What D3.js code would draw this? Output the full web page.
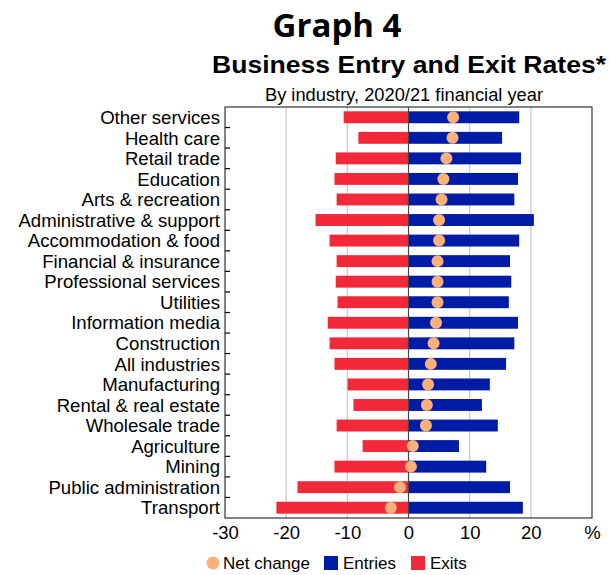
<!DOCTYPE html>
<html>
<head>
<meta charset="utf-8">
<script src="https://cdn.jsdelivr.net/npm/d3@7"></script>
<style>
  html, body { margin: 0; padding: 0; background: #fff; }
  svg { display: block; }
</style>
</head>
<body>
<svg id="chart" width="609" height="575"></svg>
<script>
const categories = ["Other services","Health care","Retail trade","Education","Arts & recreation","Administrative & support","Accommodation & food","Financial & insurance","Professional services","Utilities","Information media","Construction","All industries","Manufacturing","Rental & real estate","Wholesale trade","Agriculture","Mining","Public administration","Transport"];
const entries = [18.1,15.3,18.4,17.9,17.3,20.5,18.1,16.6,16.8,16.4,17.9,17.3,15.95,13.3,12.0,14.6,8.25,12.7,16.6,18.7];
const exits = [-10.6,-8.2,-11.9,-12.1,-11.75,-15.2,-12.9,-11.75,-11.9,-11.6,-13.2,-12.9,-12.1,-9.95,-9.0,-11.75,-7.5,-12.1,-18.15,-21.6];
const netChange = [7.3,7.2,6.2,5.7,5.4,5.0,5.0,4.75,4.75,4.75,4.5,4.1,3.65,3.2,3.0,2.85,0.7,0.4,-1.4,-2.9];
const xTicks = [-30,-20,-10,0,10,20,30];
const xTickLabels = ["-30","-20","-10","0","10","20","%"];
const legendItems = ["Net change","Entries","Exits"];

(function () {
const colors = { entries: "#001BA5", exits: "#F32939", net: "#FDB077" };
const font = "'Liberation Sans', Arial, sans-serif";

const svg = d3.select("#chart");
const pLeft = 225, pRight = 592, pTop = 107, pBottom = 518;

const x = d3.scaleLinear().domain([-30, 30]).range([pLeft, pRight]);
const y = d3.scaleBand().domain(categories).range([pTop, pBottom]).paddingInner(0.42).paddingOuter(0.21);
const yStep = y.step();

// Titles
svg.append("text").attr("x", 337).attr("y", 37).attr("text-anchor", "middle")
  .attr("font-family", "'Open Sans', sans-serif").attr("font-weight", "bold").attr("font-size", 33)
  .attr("fill", "#000").text("Graph 4");
svg.append("text").attr("x", 409).attr("y", 73).attr("text-anchor", "middle")
  .attr("font-family", font).attr("font-weight", "bold").attr("font-size", 24)
  .attr("textLength", 394).attr("lengthAdjust", "spacingAndGlyphs")
  .attr("fill", "#000").text("Business Entry and Exit Rates*");
svg.append("text").attr("x", 404).attr("y", 101).attr("text-anchor", "middle")
  .attr("font-family", font).attr("font-size", 18.3)
  .attr("fill", "#000").text("By industry, 2020/21 financial year");

// Gridlines
svg.append("g").selectAll("line").data(xTicks.filter(t => t !== 0 && t !== -30 && t !== 30)).join("line")
  .attr("x1", d => x(d)).attr("x2", d => x(d)).attr("y1", pTop).attr("y2", pBottom)
  .attr("stroke", "#c6c6c6").attr("stroke-width", 1.2);

// Bars
svg.append("g").selectAll("rect").data(categories).join("rect")
  .attr("x", (d, i) => x(exits[i])).attr("width", (d, i) => x(0) - x(exits[i]))
  .attr("y", d => y(d)).attr("height", y.bandwidth()).attr("fill", colors.exits);
svg.append("g").selectAll("rect").data(categories).join("rect")
  .attr("x", x(0)).attr("width", (d, i) => x(entries[i]) - x(0))
  .attr("y", d => y(d)).attr("height", y.bandwidth()).attr("fill", colors.entries);

// Zero line
svg.append("line").attr("x1", x(0)).attr("x2", x(0)).attr("y1", pTop).attr("y2", pBottom)
  .attr("stroke", "#444").attr("stroke-width", 1.2);

// Net change dots
svg.append("g").selectAll("circle").data(categories).join("circle")
  .attr("cx", (d, i) => x(netChange[i])).attr("cy", d => y(d) + y.bandwidth() / 2)
  .attr("r", 6).attr("fill", colors.net);

// Frame
svg.append("rect").attr("x", pLeft).attr("y", pTop).attr("width", pRight - pLeft).attr("height", pBottom - pTop)
  .attr("fill", "none").attr("stroke", "#333").attr("stroke-width", 1.2);

// Y axis category labels and ticks
const yAxis = svg.append("g").attr("transform", `translate(${pLeft},0)`);
yAxis.selectAll("line").data(d3.range(1, categories.length)).join("line")
  .attr("x1", 0).attr("x2", 5)
  .attr("y1", i => pTop + i * yStep).attr("y2", i => pTop + i * yStep)
  .attr("stroke", "#000").attr("stroke-width", 1.2);
yAxis.selectAll("text").data(categories).join("text")
  .attr("x", -5).attr("y", d => y(d) + y.bandwidth() / 2).attr("dy", "0.36em")
  .attr("text-anchor", "end").attr("font-family", font).attr("font-size", 18.6).attr("fill", "#000")
  .text(d => d);

// X axis labels
const xAxis = d3.axisBottom(x).tickValues(xTicks).tickSize(0).tickPadding(0)
  .tickFormat((d, i) => xTickLabels[i]);
const gx = svg.append("g").attr("transform", `translate(0,${pBottom})`).call(xAxis);
gx.select(".domain").remove();
gx.selectAll("text").attr("font-family", font).attr("font-size", 18.5).attr("fill", "#000")
  .attr("dy", 0).attr("y", 21);

// Legend
const lg = svg.append("g").attr("font-family", font).attr("font-size", 17);
lg.append("circle").attr("cx", 213).attr("cy", 563).attr("r", 6.5).attr("fill", colors.net);
lg.append("text").attr("x", 223).attr("y", 569).text(legendItems[0]);
lg.append("rect").attr("x", 324).attr("y", 556).attr("width", 14).attr("height", 14).attr("fill", colors.entries);
lg.append("text").attr("x", 343).attr("y", 569).text(legendItems[1]);
lg.append("rect").attr("x", 411).attr("y", 556).attr("width", 14).attr("height", 14).attr("fill", colors.exits);
lg.append("text").attr("x", 430).attr("y", 569).text(legendItems[2]);
})();
</script>
</body>
</html>
